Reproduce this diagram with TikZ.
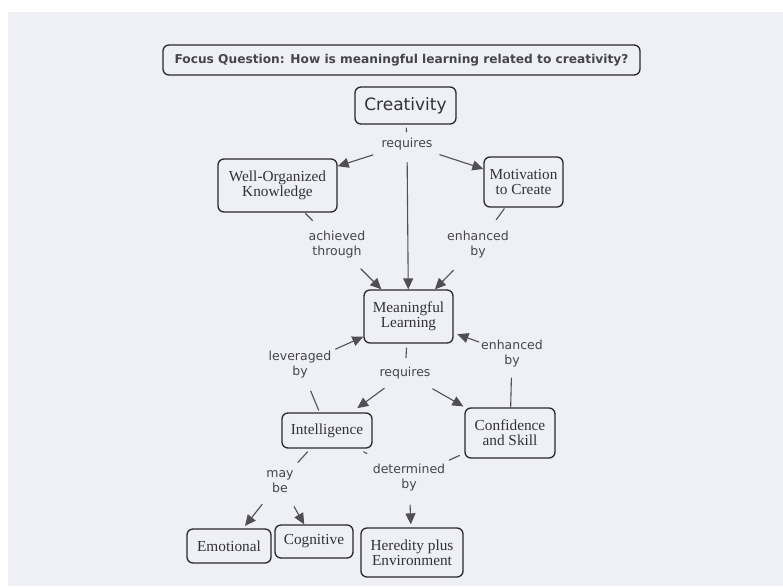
\documentclass[tikz,border=0pt]{standalone}
\usepackage{fontspec}
\setmainfont{Liberation Serif}
\newfontfamily\labelfont{DejaVu Sans}
\usetikzlibrary{arrows.meta}
\definecolor{paper}{RGB}{238,240,246}
\definecolor{boxline}{RGB}{40,40,44}
\definecolor{conceptink}{RGB}{50,50,54}
\definecolor{phraseink}{RGB}{70,70,74}
\definecolor{wire}{RGB}{80,80,84}
\tikzset{
  concept/.style={draw=boxline, line width=1.3pt, rounded corners=6pt, fill=paper,
    inner sep=0pt, align=center, text=conceptink,
    font=\fontsize{15.3}{15}\selectfont},
  phrase/.style={inner sep=0pt, align=center, text=phraseink,
    font=\labelfont\fontsize{12.5}{15}\selectfont},
  stub/.style={draw=wire, line width=1.1pt},
  arr/.style={draw=wire, line width=1.1pt, -{Triangle[length=11pt,width=10pt]}}
}
\begin{document}
\begin{tikzpicture}[x=1pt,y=-1pt]
% page and paper sheet
\fill[white] (0,0) rectangle (783,586);
\fill[paper] (8,12) rectangle (783,586);
\useasboundingbox (0,0) rectangle (783,586);

% focus question
\node[concept, minimum width=477pt, minimum height=30pt, text=phraseink,
      font=\labelfont\bfseries\fontsize{12.2}{14}\selectfont] (fq) at (401.5,60)
  {Focus Question: How is meaningful learning related to creativity?};

% concepts
\node[concept, minimum width=101pt, minimum height=37pt,
      font=\labelfont\fontsize{17}{17}\selectfont] (crea) at (405.5,105.5) {Creativity};
\node[concept, minimum width=119pt, minimum height=53pt] (wo)  at (277.5,185.5) {Well-Organized\\Knowledge};
\node[concept, minimum width=79pt,  minimum height=50pt] (mot) at (523.5,182)   {Motivation\\to Create};
\node[concept, minimum width=89pt,  minimum height=53pt] (ml)  at (408.5,316.5) {Meaningful\\Learning};
\node[concept, minimum width=90pt,  minimum height=35pt] (int) at (327,430.5)   {Intelligence};
\node[concept, minimum width=90pt,  minimum height=50pt] (conf) at (510,433)    {Confidence\\and Skill};
\node[concept, minimum width=84pt,  minimum height=34pt] (emo) at (229,546)     {Emotional};
\node[concept, minimum width=78pt,  minimum height=33pt] (cog) at (314,541.5)   {Cognitive};
\node[concept, minimum width=102pt, minimum height=49pt] (her) at (412,552.5)   {Heredity plus\\Environment};

% linking phrases
\node[phrase] (rq1)  at (407,144) {requires};
\node[phrase] (ach)  at (337,245) {achieved\\through};
\node[phrase] (enh1) at (478,245) {enhanced\\by};
\node[phrase] (rq2)  at (405,373) {requires};
\node[phrase] (lev)  at (300,365) {leveraged\\by};
\node[phrase] (enh2) at (512,354) {enhanced\\by};
\node[phrase] (may)  at (280,482) {may\\be};
\node[phrase] (det)  at (409,478) {determined\\by};

% links
\draw[stub, shorten <=3pt, shorten >=5.5pt] (crea) -- (rq1);
\draw[arr, shorten <=15pt] (rq1) -- (wo);
\draw[arr, shorten <=14pt] (rq1) -- (mot);
\draw[arr, shorten <=12pt] (rq1) -- (ml);

\draw[stub, shorten <=1pt, shorten >=15pt] (wo) -- (ach);
\draw[arr, shorten <=14pt] (ach) -- (ml);
\draw[stub, shorten <=1pt, shorten >=14pt] (mot) -- (enh1);
\draw[arr, shorten <=16pt] (enh1) -- (ml);

\draw[stub, shorten <=4pt, shorten >=9pt] (ml) -- (rq2);
\draw[arr, shorten <=15pt, shorten >=7pt] (rq2) -- (int);
\draw[arr, shorten <=19pt, shorten >=2pt] (rq2) -- (conf);

\draw[stub, shorten <=2pt, shorten >=13pt] (int) -- (lev);
\draw[arr, shorten <=5pt] (lev) -- (ml);
\draw[stub, shorten >=10pt] (conf) -- (enh2);
\draw[arr, shorten <=2pt, shorten >=4pt] (enh2) -- (ml);

\draw[stub, shorten <=4pt, shorten >=11pt] (int) -- (may);
\draw[arr, shorten <=14pt, shorten >=3pt] (may) -- (emo);
\draw[arr, shorten <=15pt] (may) -- (cog);
\draw[stub, shorten <=6pt, shorten >=21pt] (int) -- (det);
\draw[stub, shorten <=5pt, shorten >=10pt] (conf) -- (det);
\draw[arr, shorten <=13pt, shorten >=3pt] (det) -- (her);
\end{tikzpicture}
\end{document}
